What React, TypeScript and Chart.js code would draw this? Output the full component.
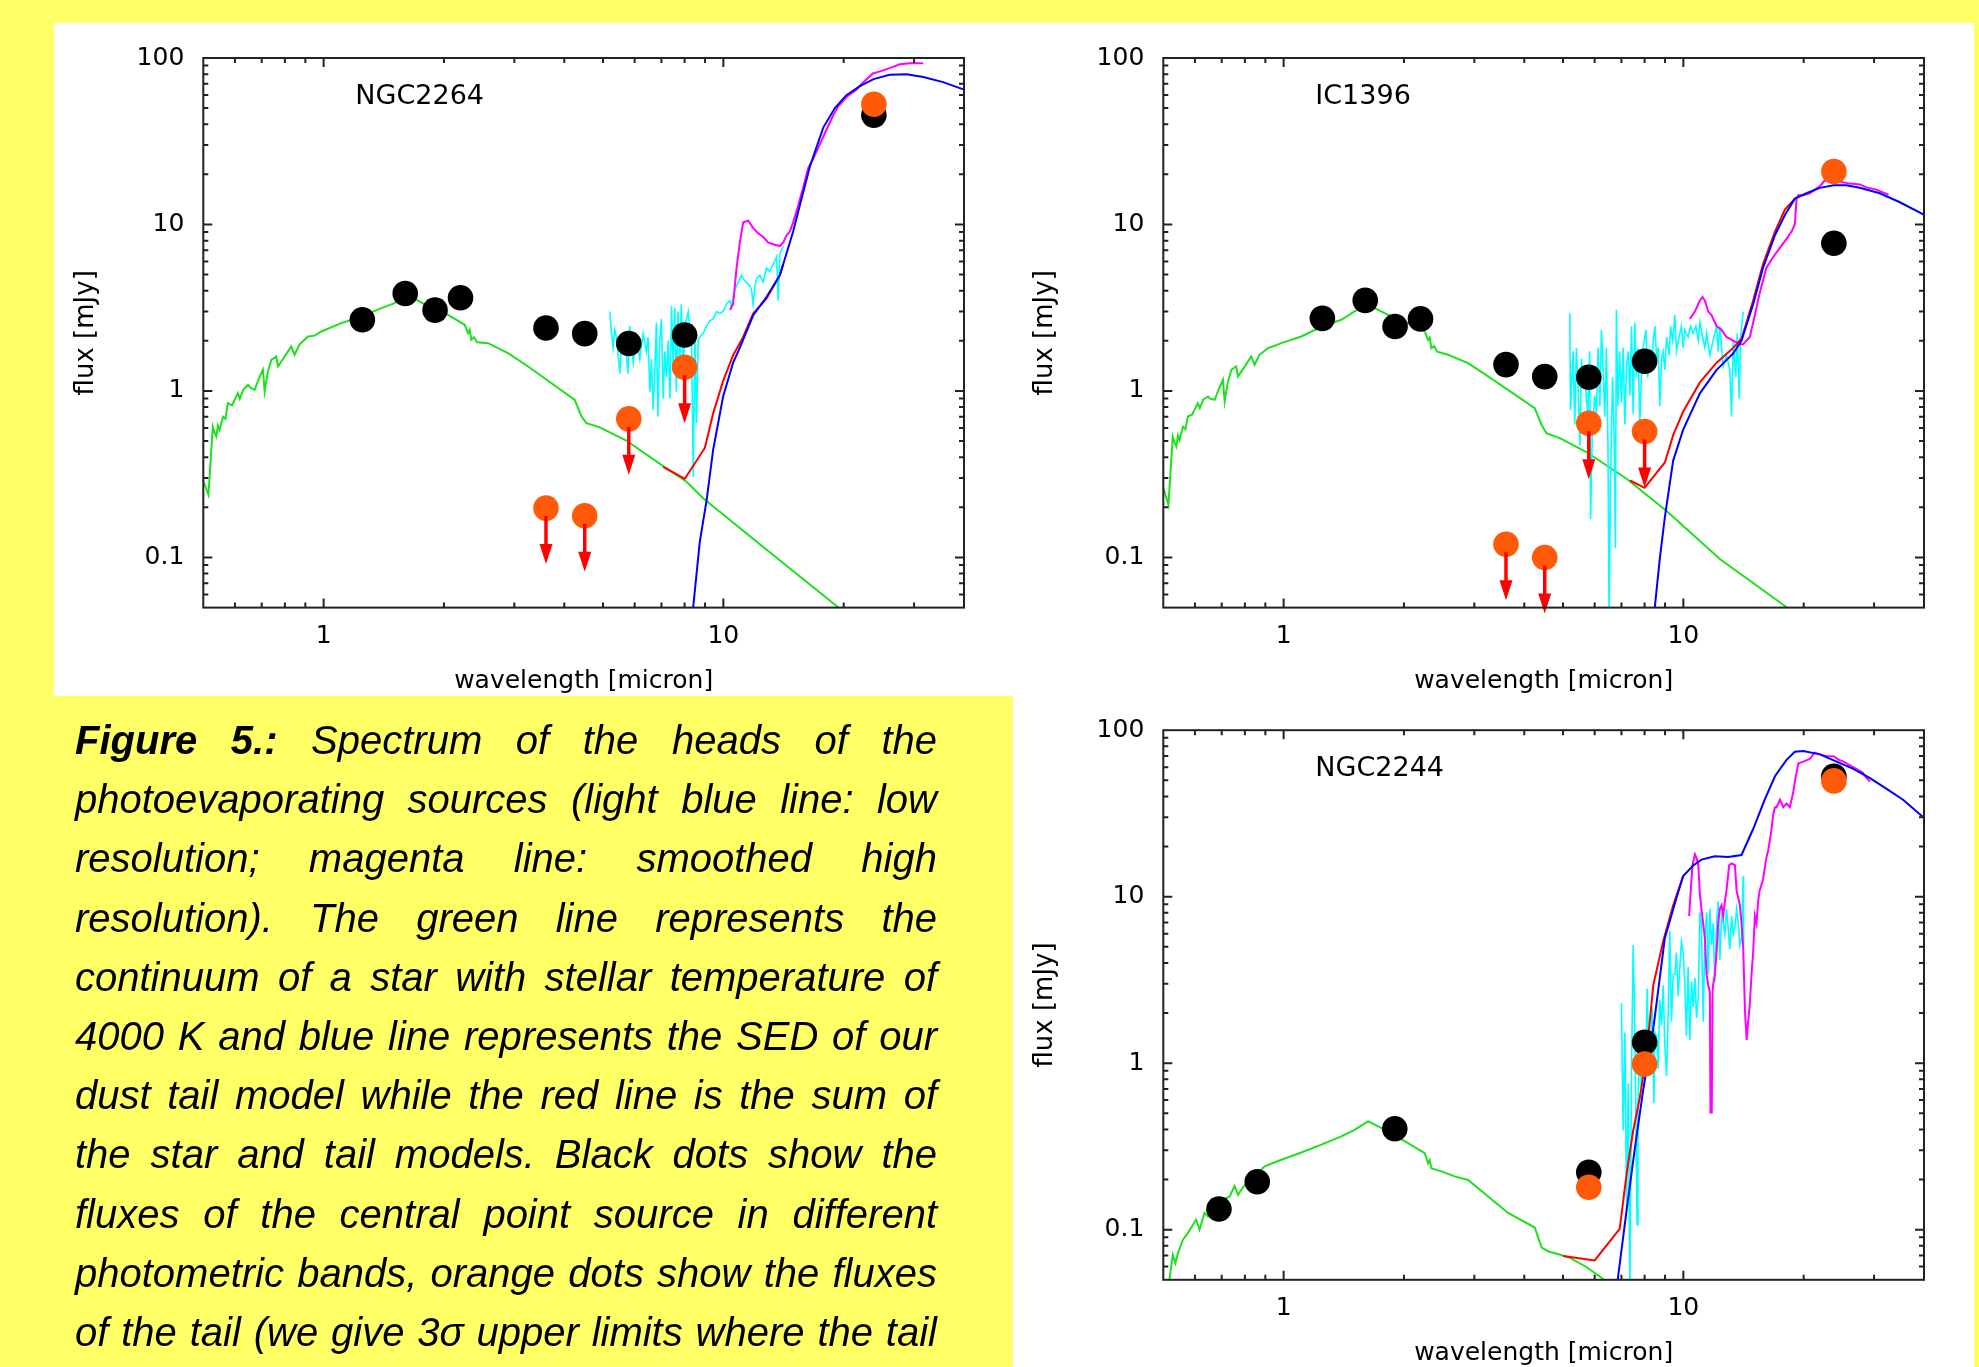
import React, { useEffect, useRef } from 'react';
import { Chart, registerables } from 'chart.js';

Chart.register(...registerables);

type Pt = [number, number];

// ---------- axes ----------
const xTickValues = [0.6, 0.7, 0.8, 0.9, 1, 2, 3, 4, 5, 6, 7, 8, 9, 10, 20, 30, 40];
const yTickValues = [
  0.06, 0.07, 0.08, 0.09, 0.1, 0.2, 0.3, 0.4, 0.5, 0.6, 0.7, 0.8, 0.9,
  1, 2, 3, 4, 5, 6, 7, 8, 9, 10, 20, 30, 40, 50, 60, 70, 80, 90, 100,
];
const xMin = 0.5;
const xMax = 40;
const yMin = 0.05;
const yMax = 100;
const xTitle = 'wavelength [micron]';
const yTitle = 'flux [mJy]';

// ---------- NGC2264 ----------
const n2264Green: Pt[] = [
  [0.499, 0.293], [0.515, 0.238], [0.523, 0.423], [0.528, 0.612], [0.534, 0.56], [0.539, 0.533],
  [0.544, 0.62], [0.549, 0.585], [0.56, 0.7], [0.568, 0.68], [0.576, 0.846], [0.59, 0.82],
  [0.61, 0.971], [0.617, 0.9], [0.63, 1.02], [0.647, 1.089], [0.655, 1.05], [0.672, 1.016],
  [0.69, 1.2], [0.705, 1.341], [0.712, 0.993], [0.725, 1.3], [0.74, 1.539], [0.761, 1.612],
  [0.769, 1.404], [0.8, 1.62], [0.83, 1.851], [0.846, 1.65], [0.87, 1.9], [0.914, 2.126],
  [0.95, 2.15], [0.987, 2.278], [1.107, 2.556], [1.243, 2.803], [1.394, 3.145], [1.505, 3.37],
  [1.626, 3.782], [1.825, 3.218], [2.047, 2.869], [2.254, 2.498], [2.298, 2.226], [2.32, 2.33],
  [2.342, 2.03], [2.38, 2.1], [2.42, 1.96], [2.579, 1.938], [2.893, 1.688], [3.248, 1.404],
  [4.249, 0.885], [4.416, 0.703], [4.545, 0.641], [4.909, 0.605], [5.72, 0.504], [7.07, 0.354],
  [8.09, 0.285], [8.9, 0.227], [12.34, 0.12], [19.2, 0.0511], [21.0, 0.043],
];
const n2264Cyan: Pt[] = [
  [5.2, 3.0], [5.25, 2.22], [5.3, 1.82], [5.35, 2.33], [5.4, 2.11], [5.51, 1.27], [5.56, 2.01],
  [5.67, 2.22], [5.77, 1.27], [5.83, 2.45], [5.89, 1.91], [5.95, 1.48], [6.06, 2.11], [6.18, 1.56],
  [6.3, 2.22], [6.42, 1.73], [6.48, 2.11], [6.55, 0.99], [6.61, 1.56], [6.67, 0.77], [6.74, 1.34],
  [6.8, 2.58], [6.86, 0.7], [6.93, 2.01], [7.0, 2.71], [7.07, 0.9], [7.14, 1.73], [7.21, 1.21],
  [7.28, 2.01], [7.35, 0.9], [7.42, 3.24], [7.49, 1.41], [7.56, 3.16], [7.63, 0.99], [7.7, 3.0],
  [7.78, 1.41], [7.85, 3.32], [7.93, 1.21], [8.01, 2.45], [8.17, 3.0], [8.33, 1.82], [8.41, 0.305],
  [8.49, 2.11], [8.57, 0.64], [8.65, 2.01], [8.73, 2.11], [8.9, 2.22], [9.08, 2.45], [9.25, 2.64],
  [9.43, 2.71], [9.61, 3.0], [9.8, 2.92], [9.99, 3.0], [10.18, 3.32], [10.38, 3.49], [10.48, 3.16],
  [10.58, 3.67], [10.69, 4.06], [10.9, 4.49], [11.1, 4.96], [11.21, 4.72], [11.43, 4.49],
  [11.65, 4.27], [11.76, 4.06], [11.87, 3.32], [11.99, 4.27], [12.11, 4.72], [12.34, 4.96],
  [12.58, 4.49], [12.82, 5.48], [13.07, 5.21], [13.33, 5.77], [13.59, 6.38], [13.72, 3.49],
  [13.85, 6.71], [14.12, 7.42],
];
const n2264Magenta: Pt[] = [
  [10.38, 3.08], [10.58, 3.32], [10.79, 5.48], [11.0, 7.8], [11.21, 10.3], [11.54, 10.54],
  [11.87, 9.55], [12.22, 8.85], [12.58, 8.41], [12.94, 7.8], [13.33, 7.61], [13.85, 7.42],
  [14.12, 7.8], [14.4, 8.62], [14.67, 9.07], [14.95, 10.3], [15.38, 12.9], [15.82, 16.5],
  [16.3, 21.8], [16.78, 24.8], [17.44, 30.4], [18.12, 37.2], [18.83, 45.3], [19.39, 51.4],
  [20.32, 58.3], [21.5, 64.5], [22.33, 71.1], [23.65, 80.7], [24.58, 82.8], [26.06, 87.0],
  [27.63, 91.6], [29.31, 93.0], [31.64, 93.0],
];
const n2264Red: Pt[] = [
  [7.07, 0.35], [7.49, 0.324], [8.01, 0.297], [8.99, 0.455], [9.43, 0.734], [9.99, 1.15],
  [10.58, 1.64], [11.21, 2.11], [11.87, 2.92], [12.82, 3.58], [13.85, 4.96], [14.12, 5.77],
];
const n2264Blue: Pt[] = [
  [8.3, 0.04], [8.41, 0.0511], [8.73, 0.124], [9.08, 0.22], [9.43, 0.444], [9.99, 0.93],
  [10.58, 1.48], [11.0, 1.82], [11.87, 2.84], [12.82, 3.67], [13.85, 4.96], [14.95, 9.07],
  [15.52, 12.9], [16.47, 22.4], [17.78, 38.2], [19.01, 50.1], [20.32, 59.8], [21.96, 67.7],
  [23.76, 74.7], [26.06, 79.3], [28.74, 79.9], [31.64, 76.9], [35.45, 71.6], [39.84, 64.8], [41, 63],
];
const n2264HeadBand = [1.25, 1.6, 1.9, 2.2, 3.6, 4.5, 5.8, 8.0, 23.8];
const n2264HeadFlux = [2.68, 3.85, 3.06, 3.63, 2.39, 2.21, 1.93, 2.17, 45.4];
const n2264TailBand = [3.6, 4.5, 5.8, 8.0, 23.8];
const n2264TailFlux = [0.198, 0.178, 0.68, 1.39, 52.7];
const n2264TailUpper = [true, true, true, true, false];

// ---------- IC1396 ----------
const ic1396Green: Pt[] = [
  [0.499, 0.267], [0.515, 0.207], [0.523, 0.369], [0.528, 0.533], [0.534, 0.49], [0.539, 0.465],
  [0.544, 0.54], [0.549, 0.509], [0.56, 0.61], [0.568, 0.59], [0.576, 0.703], [0.59, 0.72],
  [0.61, 0.846], [0.617, 0.79], [0.63, 0.89], [0.647, 0.927], [0.655, 0.9], [0.672, 0.885],
  [0.69, 1.04], [0.705, 1.167], [0.712, 0.866], [0.725, 1.13], [0.74, 1.341], [0.761, 1.404],
  [0.769, 1.225], [0.8, 1.41], [0.83, 1.612], [0.846, 1.437], [0.87, 1.65], [0.914, 1.809],
  [0.95, 1.87], [0.987, 1.938], [1.107, 2.126], [1.243, 2.43], [1.394, 2.677], [1.505, 3.004],
  [1.626, 3.293], [1.825, 2.869], [2.047, 2.556], [2.254, 2.278], [2.298, 2.03], [2.32, 2.1],
  [2.342, 1.809], [2.38, 1.86], [2.42, 1.72], [2.579, 1.65], [2.893, 1.47], [3.248, 1.225],
  [4.249, 0.789], [4.416, 0.627], [4.545, 0.558], [4.909, 0.521], [5.72, 0.43], [7.21, 0.297],
  [9.08, 0.19], [12.34, 0.098], [17.95, 0.0511], [20.0, 0.041],
];
const ic1396Cyan: Pt[] = [
  [5.2, 2.93], [5.22, 0.77], [5.3, 1.73], [5.35, 0.63], [5.4, 1.82], [5.46, 0.99], [5.51, 0.47],
  [5.56, 1.56], [5.61, 1.1], [5.67, 1.34], [5.72, 0.9], [5.77, 0.73], [5.83, 1.73], [5.86, 0.17],
  [5.92, 0.57], [6.0, 0.94], [6.06, 0.73], [6.12, 1.82], [6.18, 0.81], [6.24, 2.33], [6.3, 1.34],
  [6.36, 0.7], [6.42, 1.82], [6.48, 0.44], [6.52, 0.04], [6.57, 0.27], [6.65, 1.21], [6.71, 0.57],
  [6.76, 0.114], [6.8, 3.08], [6.86, 0.81], [6.93, 1.73], [7.0, 0.85], [7.07, 1.82], [7.14, 0.63],
  [7.21, 1.41], [7.28, 1.73], [7.35, 0.94], [7.42, 2.45], [7.49, 0.73], [7.56, 2.58], [7.63, 1.21],
  [7.7, 1.82], [7.78, 0.63], [7.85, 1.21], [7.93, 1.82], [8.06, 2.33], [8.14, 1.21], [8.25, 1.73],
  [8.33, 1.41], [8.41, 2.01], [8.49, 2.45], [8.57, 1.56], [8.65, 1.82], [8.73, 0.81], [8.82, 1.56],
  [8.9, 1.73], [8.99, 1.34], [9.08, 2.11], [9.22, 1.64], [9.29, 2.45], [9.4, 2.01], [9.52, 2.86],
  [9.61, 1.73], [9.76, 2.11], [9.89, 2.45], [9.99, 1.82], [10.08, 2.33], [10.28, 2.11],
  [10.42, 2.45], [10.58, 2.22], [10.75, 2.45], [10.9, 2.01], [11.0, 2.58], [11.17, 2.11],
  [11.32, 1.82], [11.43, 2.22], [11.65, 1.64], [11.87, 2.01], [12.11, 2.45], [12.22, 1.73],
  [12.34, 2.45], [12.58, 1.41], [12.82, 1.64], [13.07, 1.34], [13.2, 0.7], [13.33, 2.01],
  [13.53, 1.21], [13.64, 2.22], [13.8, 0.9], [13.9, 2.11], [14.12, 3.0],
];
const ic1396Magenta: Pt[] = [
  [10.38, 2.71], [10.69, 3.0], [11.0, 3.49], [11.17, 3.67], [11.32, 3.49], [11.54, 3.0],
  [11.76, 2.86], [12.11, 2.45], [12.46, 2.33], [12.82, 2.11], [13.33, 2.01], [13.85, 1.91],
  [14.12, 1.91], [14.67, 2.11], [15.1, 2.86], [15.52, 3.86], [16.13, 5.48], [16.78, 6.38],
  [17.44, 7.23], [18.12, 8.2], [18.65, 9.07], [19.01, 10.03], [19.2, 14.3], [19.39, 15.0],
  [19.95, 15.0], [20.71, 15.4], [21.3, 16.2], [21.96, 17.0], [22.54, 18.3], [23.2, 18.3],
  [24.58, 18.1], [26.06, 17.6], [27.63, 17.4], [28.74, 16.7], [30.4, 16.2], [32.6, 15.1],
];
const ic1396Red: Pt[] = [
  [7.35, 0.29], [8.0, 0.262], [8.99, 0.372], [9.43, 0.543], [9.99, 0.753], [11.0, 1.126],
  [12.11, 1.48], [13.33, 1.815], [13.98, 2.06], [14.95, 3.49], [15.82, 5.77], [16.95, 9.07],
  [17.95, 12.3], [19.01, 14.3],
];
const ic1396Blue: Pt[] = [
  [8.4, 0.04], [8.49, 0.051], [8.73, 0.098], [8.99, 0.175], [9.43, 0.382], [9.99, 0.586],
  [11.0, 0.968], [12.11, 1.34], [13.33, 1.68], [13.98, 2.01], [14.95, 3.32], [15.82, 5.48],
  [16.95, 8.62], [17.95, 11.4], [19.01, 14.3], [20.32, 15.4], [21.96, 16.6], [23.76, 17.2],
  [25.56, 17.2], [27.63, 16.6], [31.0, 15.4], [34.8, 13.6], [39.84, 11.5], [41, 11.1],
];
const ic1396HeadBand = [1.25, 1.6, 1.9, 2.2, 3.6, 4.5, 5.8, 8.0, 23.8];
const ic1396HeadFlux = [2.73, 3.5, 2.44, 2.71, 1.44, 1.22, 1.21, 1.51, 7.72];
const ic1396TailBand = [3.6, 4.5, 5.8, 8.0, 23.8];
const ic1396TailFlux = [0.12, 0.1, 0.64, 0.571, 20.8];
const ic1396TailUpper = [true, true, true, true, false];

// ---------- NGC2244 ----------
const n2244Green: Pt[] = [
  [0.518, 0.05], [0.528, 0.0707], [0.536, 0.063], [0.544, 0.0723], [0.56, 0.087], [0.576, 0.0954],
  [0.593, 0.107], [0.604, 0.115], [0.616, 0.0999], [0.634, 0.126], [0.647, 0.12], [0.672, 0.138],
  [0.698, 0.151], [0.732, 0.158], [0.754, 0.183], [0.769, 0.162], [0.799, 0.186], [0.846, 0.209],
  [0.896, 0.24], [0.987, 0.263], [1.107, 0.291], [1.243, 0.324], [1.394, 0.363], [1.505, 0.398],
  [1.626, 0.447], [1.69, 0.427], [1.825, 0.389], [2.047, 0.331], [2.254, 0.288], [2.298, 0.251],
  [2.32, 0.262], [2.342, 0.234], [2.481, 0.224], [2.679, 0.209], [2.893, 0.199], [3.248, 0.158],
  [3.644, 0.126], [4.249, 0.103], [4.42, 0.078], [4.6, 0.074], [4.9, 0.071], [5.2, 0.0677],
  [5.72, 0.0597], [6.24, 0.0514], [6.5, 0.047],
];
const n2244Cyan: Pt[] = [
  [7.0, 2.29], [7.07, 0.394], [7.14, 1.53], [7.21, 0.137], [7.28, 0.757], [7.35, 0.045],
  [7.42, 0.925], [7.49, 5.11], [7.53, 2.8], [7.59, 0.757], [7.66, 0.107], [7.7, 0.589],
  [7.78, 1.25], [7.85, 0.72], [7.93, 1.38], [8.06, 1.08], [8.12, 2.8], [8.2, 0.973], [8.28, 1.25],
  [8.35, 2.18], [8.44, 0.574], [8.49, 1.53], [8.57, 1.455], [8.65, 0.925], [8.73, 2.4],
  [8.82, 1.69], [8.9, 2.94], [8.99, 1.25], [9.08, 0.837], [9.17, 2.07], [9.25, 6.25], [9.34, 1.78],
  [9.43, 3.42], [9.52, 3.42], [9.61, 4.62], [9.71, 2.53], [9.8, 3.78], [9.89, 5.38], [9.99, 4.62],
  [10.08, 3.09], [10.18, 1.455], [10.28, 3.78], [10.38, 1.38], [10.48, 3.09], [10.58, 2.18],
  [10.69, 3.25], [10.79, 1.87], [10.9, 2.53], [11.0, 8.04], [11.1, 6.91], [11.21, 1.78],
  [11.32, 5.65], [11.43, 8.04], [11.54, 3.42], [11.65, 8.45], [11.76, 5.11], [11.87, 6.91],
  [11.99, 3.09], [12.11, 6.91], [12.22, 9.35], [12.34, 4.18], [12.46, 7.64], [12.58, 6.91],
  [12.7, 5.94], [12.82, 8.45], [12.94, 6.57], [13.07, 4.86], [13.2, 7.64], [13.33, 5.94],
  [13.46, 6.57], [13.59, 8.45], [13.72, 6.91], [13.85, 5.11], [13.98, 5.65], [14.12, 13.3],
  [14.15, 5.11],
];
const n2244Magenta: Pt[] = [
  [10.34, 7.64], [10.42, 10.33], [10.54, 15.45], [10.69, 17.97], [10.79, 17.09], [10.9, 15.45],
  [11.0, 10.33], [11.1, 8.45], [11.21, 6.91], [11.32, 5.65], [11.43, 3.42], [11.54, 2.94],
  [11.65, 2.66], [11.69, 0.506], [11.78, 0.506], [11.83, 2.66], [11.87, 2.94], [11.99, 3.42],
  [12.11, 4.62], [12.22, 6.91], [12.34, 8.45], [12.46, 8.89], [12.58, 7.64], [12.7, 9.35],
  [12.82, 10.87], [13.02, 15.45], [13.2, 15.84], [13.46, 15.45], [13.59, 10.87], [13.72, 9.83],
  [13.85, 8.89], [13.98, 6.91], [14.12, 4.86], [14.26, 2.07], [14.4, 1.38], [14.53, 1.78],
  [14.67, 2.29], [14.81, 3.42], [14.95, 4.62], [15.1, 7.64], [15.24, 6.91], [15.38, 9.35],
  [15.52, 10.87], [15.82, 12.64], [16.13, 17.09], [16.3, 18.9], [16.47, 21.97], [16.62, 25.55],
  [16.78, 31.2], [16.95, 34.5], [17.11, 34.5], [17.44, 38.2], [17.78, 34.5], [18.12, 36.3],
  [18.47, 34.5], [18.65, 38.2], [18.83, 42.2], [19.01, 49.1], [19.39, 63.1], [19.95, 64.7],
  [20.71, 67.1], [21.3, 73.4], [21.96, 71.6], [22.87, 69.8], [23.76, 69.8], [24.47, 66.4],
  [25.17, 64.7], [26.06, 61.6], [27.05, 58.6], [28.1, 55.7], [28.74, 51.6], [29.31, 49.1],
];
const n2244Red: Pt[] = [
  [5.0, 0.0695], [6.0, 0.0654], [6.93, 0.101], [7.21, 0.215], [7.49, 0.394], [7.78, 0.619],
  [8.09, 1.13], [8.41, 2.94], [8.9, 5.38], [9.43, 8.89], [9.99, 13.3],
];
const n2244Blue: Pt[] = [
  [6.8, 0.04], [6.87, 0.0527], [7.21, 0.13], [7.56, 0.306], [7.93, 0.684], [8.41, 1.61],
  [8.99, 5.65], [9.61, 9.83], [9.99, 13.3], [10.58, 15.4], [11.1, 16.7], [11.99, 17.5],
  [12.94, 17.3], [13.98, 17.8], [14.95, 25.5], [15.97, 38.2], [16.95, 52.9], [18.12, 66.4],
  [19.01, 74.2], [19.95, 74.9], [21.96, 71.6], [24.18, 64.7], [26.62, 58.6], [29.31, 51.6],
  [32.25, 44.4], [35.45, 38.2], [39.84, 30.0], [41, 28.8],
];
const n2244HeadBand = [0.689, 0.859, 1.897, 5.8, 8.0, 23.8];
const n2244HeadFlux = [0.133, 0.194, 0.404, 0.221, 1.335, 52.9];
const n2244TailBand = [5.8, 8.0, 23.8];
const n2244TailFlux = [0.18, 0.988, 49.6];
const n2244TailUpper = [false, false, false];

// ---------- caption ----------
const captionBold = 'Figure 5.:';
const captionLines = [
  ' Spectrum of the heads of the',
  'photoevaporating sources (light blue line: low',
  'resolution; magenta line: smoothed high',
  'resolution). The green line represents the',
  'continuum of a star with stellar temperature of',
  '4000 K and blue line represents the SED of our',
  'dust tail model while the red line is the sum of',
  'the star and tail models. Black dots show the',
  'fluxes of the central point source in different',
  'photometric bands, orange dots show the fluxes',
  'of the tail (we give 3\u03c3 upper limits where the tail',
];

// ---------- helpers ----------
const FONT = 'DejaVu Sans';
const isDecade = (v: number) => Math.abs(Math.log10(v) - Math.round(Math.log10(v))) < 1e-6;
const toXY = (pts: Pt[]) => pts.map(([x, y]) => ({ x, y }));
const zipXY = (xs: number[], ys: number[]) => xs.map((x, i) => ({ x, y: ys[i] }));

const sedFrame = {
  id: 'sedFrame',
  afterDraw(chart: any, _args: any, opts: any) {
    const { ctx, chartArea: a } = chart;
    const xs = chart.scales.x;
    const ys = chart.scales.y;
    ctx.save();
    ctx.strokeStyle = '#222';
    ctx.lineWidth = 2;
    ctx.beginPath();
    for (const t of xs.ticks) {
      const p = xs.getPixelForValue(t.value);
      if (p < a.left + 2 || p > a.right - 2) continue;
      const len = isDecade(t.value) ? 9 : 5;
      ctx.moveTo(p, a.bottom);
      ctx.lineTo(p, a.bottom - len);
      ctx.moveTo(p, a.top);
      ctx.lineTo(p, a.top + len);
    }
    for (const t of ys.ticks) {
      const p = ys.getPixelForValue(t.value);
      if (p < a.top + 2 || p > a.bottom - 2) continue;
      const len = isDecade(t.value) ? 9 : 5;
      ctx.moveTo(a.left, p);
      ctx.lineTo(a.left + len, p);
      ctx.moveTo(a.right, p);
      ctx.lineTo(a.right - len, p);
    }
    ctx.stroke();
    ctx.strokeRect(a.left, a.top, a.right - a.left, a.bottom - a.top);
    ctx.fillStyle = '#000';
    ctx.font = `27px "${FONT}"`;
    ctx.textBaseline = 'alphabetic';
    ctx.textAlign = 'left';
    ctx.fillText(opts.label, a.left + 152, a.top + 46);
    ctx.restore();
  },
};

const limitArrows = {
  id: 'limitArrows',
  afterDatasetsDraw(chart: any) {
    const { ctx } = chart;
    chart.data.datasets.forEach((ds: any, i: number) => {
      const flags: boolean[] | undefined = ds.upperLimits;
      if (!flags) return;
      const meta = chart.getDatasetMeta(i);
      meta.data.forEach((el: any, j: number) => {
        if (!flags[j]) return;
        const x = el.x;
        const tip = el.y + 56;
        ctx.save();
        ctx.strokeStyle = '#ff0000';
        ctx.fillStyle = '#ff0000';
        ctx.lineWidth = 3.5;
        ctx.beginPath();
        ctx.moveTo(x, el.y + 8);
        ctx.lineTo(x, tip - 16);
        ctx.stroke();
        ctx.beginPath();
        ctx.moveTo(x - 6.5, tip - 20);
        ctx.lineTo(x + 6.5, tip - 20);
        ctx.lineTo(x, tip);
        ctx.closePath();
        ctx.fill();
        ctx.restore();
      });
    });
  },
};

type PanelCfg = {
  label: string;
  left: number;
  top: number;
  padTop: number;
  padRight: number;
  padBottom: number;
  yWidth: number;
  green: Pt[];
  cyan: Pt[];
  magenta: Pt[];
  red: Pt[];
  blue: Pt[];
  headBand: number[];
  headFlux: number[];
  tailBand: number[];
  tailFlux: number[];
  tailUpper: boolean[];
};

const panels: PanelCfg[] = [
  {
    label: 'NGC2264', left: 54, top: 23, padTop: 35, padRight: 90, padBottom: 15.4, yWidth: 149.3,
    green: n2264Green, cyan: n2264Cyan, magenta: n2264Magenta, red: n2264Red, blue: n2264Blue,
    headBand: n2264HeadBand, headFlux: n2264HeadFlux, tailBand: n2264TailBand, tailFlux: n2264TailFlux,
    tailUpper: n2264TailUpper,
  },
  {
    label: 'IC1396', left: 1013, top: 23, padTop: 35, padRight: 89, padBottom: 15.4, yWidth: 150.3,
    green: ic1396Green, cyan: ic1396Cyan, magenta: ic1396Magenta, red: ic1396Red, blue: ic1396Blue,
    headBand: ic1396HeadBand, headFlux: ic1396HeadFlux, tailBand: ic1396TailBand, tailFlux: ic1396TailFlux,
    tailUpper: ic1396TailUpper,
  },
  {
    label: 'NGC2244', left: 1013, top: 696, padTop: 34.2, padRight: 89, padBottom: 16.2, yWidth: 150.3,
    green: n2244Green, cyan: n2244Cyan, magenta: n2244Magenta, red: n2244Red, blue: n2244Blue,
    headBand: n2244HeadBand, headFlux: n2244HeadFlux, tailBand: n2244TailBand, tailFlux: n2244TailFlux,
    tailUpper: n2244TailUpper,
  },
];

function lineDs(label: string, pts: Pt[], color: string, width: number, order: number) {
  return {
    label,
    data: toXY(pts),
    showLine: true,
    pointRadius: 0,
    pointHoverRadius: 0,
    borderColor: color,
    backgroundColor: color,
    borderWidth: width,
    tension: 0,
    fill: false,
    order,
  };
}

function buildConfig(p: PanelCfg): any {
  const tickFont = { family: FONT, size: 25 };
  return {
    type: 'scatter',
    data: {
      datasets: [
        lineDs('stellar continuum', p.green, '#1fe01f', 2, 7),
        lineDs('low resolution', p.cyan, '#00ffff', 1.6, 6),
        lineDs('smoothed high resolution', p.magenta, '#ff00ff', 2, 5),
        lineDs('star + tail', p.red, '#ff0000', 2, 4),
        lineDs('dust tail model', p.blue, '#0000ff', 2, 3),
        {
          label: 'central source',
          data: zipXY(p.headBand, p.headFlux),
          pointRadius: 12.8,
          pointHoverRadius: 12.8,
          backgroundColor: '#000000',
          borderColor: '#000000',
          borderWidth: 0,
          order: 2,
        },
        {
          label: 'tail',
          data: zipXY(p.tailBand, p.tailFlux),
          pointRadius: 12.8,
          pointHoverRadius: 12.8,
          backgroundColor: '#ff5a0a',
          borderColor: '#ff5a0a',
          borderWidth: 0,
          order: 1,
          upperLimits: p.tailUpper,
        },
      ],
    },
    options: {
      animation: false,
      responsive: false,
      devicePixelRatio: 1,
      events: [],
      layout: { padding: { left: 0, top: p.padTop, right: p.padRight, bottom: p.padBottom } },
      plugins: {
        legend: { display: false },
        tooltip: { enabled: false },
        sedFrame: { label: p.label },
      },
      scales: {
        x: {
          type: 'logarithmic',
          position: 'bottom',
          min: xMin,
          max: xMax,
          afterBuildTicks: (s: any) => {
            s.ticks = xTickValues.map((v) => ({ value: v }));
          },
          afterFit: (s: any) => {
            s.height = 100;
          },
          grid: { display: false, drawTicks: false },
          border: { display: false },
          ticks: {
            autoSkip: false,
            maxRotation: 0,
            minRotation: 0,
            padding: 14,
            color: '#000',
            font: tickFont,
            callback: (v: any) => (isDecade(Number(v)) ? String(Number(v)) : ''),
          },
          title: {
            display: true,
            text: xTitle,
            color: '#000',
            font: tickFont,
            padding: { top: 0, bottom: 11 },
          },
        },
        y: {
          type: 'logarithmic',
          position: 'left',
          min: yMin,
          max: yMax,
          afterBuildTicks: (s: any) => {
            s.ticks = yTickValues.map((v) => ({ value: v }));
          },
          afterFit: (s: any) => {
            s.width = p.yWidth;
          },
          grid: { display: false, drawTicks: false },
          border: { display: false },
          ticks: {
            autoSkip: false,
            padding: 19,
            color: '#000',
            font: tickFont,
            callback: (v: any) => (isDecade(Number(v)) ? String(Number(v)) : ''),
          },
          title: {
            display: true,
            text: yTitle,
            color: '#000',
            font: { family: FONT, size: 26 },
            padding: { top: 16.4, bottom: 0 },
          },
        },
      },
    },
    plugins: [sedFrame, limitArrows],
  };
}

function SedPanel({ cfg }: { cfg: PanelCfg }) {
  const ref = useRef<HTMLCanvasElement>(null);
  useEffect(() => {
    const chart = new Chart(ref.current as HTMLCanvasElement, buildConfig(cfg));
    return () => chart.destroy();
  }, [cfg]);
  return (
    <canvas
      ref={ref}
      width={1000}
      height={700}
      style={{ position: 'absolute', left: cfg.left, top: cfg.top, width: 1000, height: 700 }}
    />
  );
}

export default function App() {
  return (
    <div
      style={{
        position: 'absolute',
        left: 0,
        top: 0,
        width: 1979,
        height: 1367,
        overflow: 'hidden',
        background: '#ffff66',
      }}
    >
      <div style={{ position: 'absolute', left: 54, top: 23, width: 1920, height: 673, background: '#fff' }} />
      <div style={{ position: 'absolute', left: 1013, top: 696, width: 961, height: 671, background: '#fff' }} />
      {panels.map((p) => (
        <SedPanel key={p.label} cfg={p} />
      ))}
      <div
        style={{
          position: 'absolute',
          left: 75,
          top: 711,
          width: 862,
          fontFamily: '"Liberation Sans", Arial, Helvetica, sans-serif',
          fontStyle: 'italic',
          fontSize: 40,
          lineHeight: '59.2px',
          color: '#000',
        }}
      >
        {captionLines.map((line, i) => (
          <div key={i} style={{ textAlign: 'justify', textAlignLast: 'justify' }}>
            {i === 0 ? <b>{captionBold}</b> : null}
            {line}
          </div>
        ))}
      </div>
    </div>
  );
}
